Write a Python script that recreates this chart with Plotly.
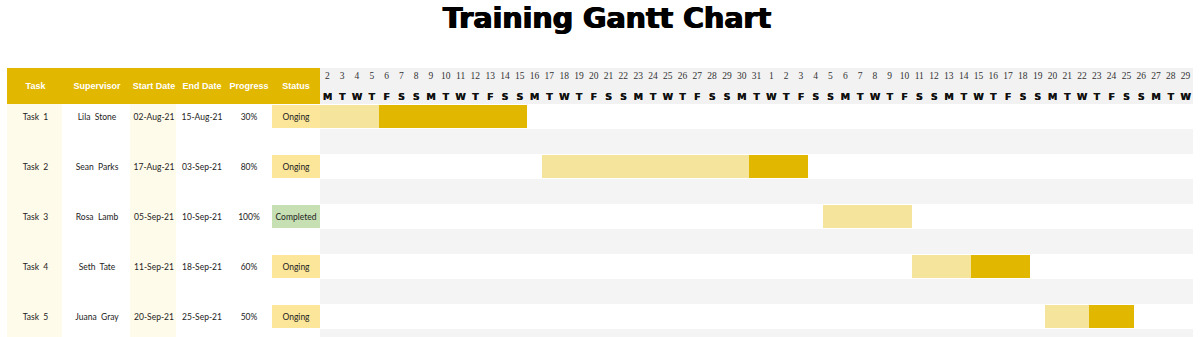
import plotly.graph_objects as go
import pandas as pd

# ---------------- data ----------------
tasks = ["Task  1", "Task  2", "Task  3", "Task  4", "Task  5"]
supervisors = ["Lila  Stone", "Sean  Parks", "Rosa  Lamb", "Seth  Tate", "Juana  Gray"]
start_dates = ["2021-08-02", "2021-08-17", "2021-09-05", "2021-09-11", "2021-09-20"]
end_dates = ["2021-08-15", "2021-09-03", "2021-09-10", "2021-09-18", "2021-09-25"]
progress = [30, 80, 100, 60, 50]
statuses = ["Onging", "Onging", "Completed", "Onging", "Onging"]
done_days = [4, 14, 6, 4, 3]
headers = ["Task", "Supervisor", "Start Date", "End Date", "Progress", "Status"]
timeline_start = "2021-08-02"
timeline_end = "2021-09-29"
weekday_letters = ["M", "T", "W", "T", "F", "S", "S"]

# ---------------- style ----------------
GOLD = "#E2B700"
LIGHT = "#F5E49C"
HEAD_GRAY = "#F2F2F2"
STRIPE = "#F4F4F4"
CREAM = "#FFFBEB"
STATUS_COLORS = {"Onging": "#FCE69A", "Completed": "#C6E0B4"}
col_edges = [7, 64, 130, 178, 226, 272, 320]
W = 1200
H = 337

DAY_MS = 86400000
rows = [2 * i for i in range(len(tasks))]
starts = pd.to_datetime(start_dates)
ends = pd.to_datetime(end_dates)
durations = [(e - s).days + 1 for s, e in zip(starts, ends)]
col_centers = [(col_edges[i] + col_edges[i + 1]) / 2 for i in range(len(headers))]

days = pd.date_range(timeline_start, timeline_end)
day_mid = [d + pd.Timedelta(hours=12) for d in days]

y_top = -1.94
y_bottom = 8.82
head_mid = (y_top + -0.5) / 2

fig = go.Figure()

# header backgrounds
fig.add_trace(go.Bar(orientation="h", y=[head_mid], x=[col_edges[-1] - col_edges[0]],
                     base=[col_edges[0]], width=[-0.5 - y_top], marker=dict(color=GOLD, line=dict(width=0)),
                     xaxis="x", yaxis="y", hoverinfo="skip", showlegend=False))
fig.add_trace(go.Bar(orientation="h", y=[head_mid], x=[len(days) * DAY_MS],
                     base=[timeline_start], width=[-0.5 - y_top],
                     marker=dict(color=HEAD_GRAY, line=dict(width=0)),
                     xaxis="x2", yaxis="y", hoverinfo="skip", showlegend=False))

# stripes in the timeline (gap rows)
stripe_rows = [r + 1 for r in rows]
fig.add_trace(go.Bar(orientation="h", y=stripe_rows, x=[len(days) * DAY_MS] * len(stripe_rows),
                     base=[timeline_start] * len(stripe_rows), width=1.0,
                     marker=dict(color=STRIPE, line=dict(width=0)),
                     xaxis="x2", yaxis="y", hoverinfo="skip", showlegend=False))

# status cells
fig.add_trace(go.Bar(orientation="h", y=rows, x=[col_edges[6] - col_edges[5]] * len(rows),
                     base=[col_edges[5]] * len(rows), width=0.94,
                     marker=dict(color=[STATUS_COLORS[s] for s in statuses], line=dict(width=0)),
                     xaxis="x", yaxis="y", hoverinfo="skip", showlegend=False))

# gantt bars: completed part (light) and remaining part (dark)
fig.add_trace(go.Bar(orientation="h", y=rows, x=[d * DAY_MS for d in done_days],
                     base=[s.strftime("%Y-%m-%d") for s in starts], width=0.94,
                     marker=dict(color=LIGHT, line=dict(width=0)),
                     xaxis="x2", yaxis="y", hoverinfo="skip", showlegend=False))
fig.add_trace(go.Bar(orientation="h", y=rows, x=[(dur - d) * DAY_MS for dur, d in zip(durations, done_days)],
                     base=[(s + pd.Timedelta(days=d)).strftime("%Y-%m-%d") for s, d in zip(starts, done_days)],
                     width=0.94, marker=dict(color=GOLD, line=dict(width=0)),
                     xaxis="x2", yaxis="y", hoverinfo="skip", showlegend=False))

# header text
fig.add_trace(go.Scatter(x=col_centers, y=[head_mid + 0.04] * len(headers), mode="text", text=headers,
                         textfont=dict(family="Liberation Sans", size=9, color="white", weight="bold"),
                         xaxis="x", yaxis="y", hoverinfo="skip", showlegend=False))

# day numbers and weekday letters
fig.add_trace(go.Scatter(x=day_mid, y=[-1.6] * len(days), mode="text", text=[str(d.day) for d in days],
                         textfont=dict(family="Liberation Serif", size=9.5, color="#333333"),
                         xaxis="x2", yaxis="y", hoverinfo="skip", showlegend=False))
fig.add_trace(go.Scatter(x=day_mid, y=[-0.76] * len(days), mode="text",
                         text=[weekday_letters[d.weekday()] for d in days],
                         textfont=dict(family="DejaVu Sans", size=9.5, color="#111111", weight="bold",
                                       shadow="0.3px 0 0 #111111"),
                         xaxis="x2", yaxis="y", hoverinfo="skip", showlegend=False))

# table body text
body_cols = [
    tasks,
    supervisors,
    [s.strftime("%d-%b-%y") for s in starts],
    [e.strftime("%d-%b-%y") for e in ends],
    [f"{p}%" for p in progress],
    statuses,
]
for ci, col in enumerate(body_cols):
    fig.add_trace(go.Scatter(x=[col_centers[ci]] * len(col), y=[r + 0.04 for r in rows], mode="text", text=col,
                             textfont=dict(family="Lato", size=8.5, color="#222222"),
                             xaxis="x", yaxis="y", hoverinfo="skip", showlegend=False))

# cream column backgrounds (Task and Start Date columns)
shapes = []
for ci in (0, 2):
    shapes.append(dict(type="rect", xref="x", yref="y", x0=col_edges[ci], x1=col_edges[ci + 1] - 2,
                       y0=-0.5, y1=y_bottom, fillcolor=CREAM, line=dict(width=0), layer="below"))

fig.update_layout(
    width=W, height=H,
    margin=dict(l=0, r=0, t=68, b=0),
    paper_bgcolor="white", plot_bgcolor="white",
    barmode="overlay",
    bargap=0,
    shapes=shapes,
    xaxis=dict(domain=[col_edges[0] / W, col_edges[-1] / W], range=[col_edges[0], col_edges[-1]],
               visible=False, fixedrange=True),
    xaxis2=dict(domain=[col_edges[-1] / W, 1193 / W], type="date",
                range=[timeline_start, (days[-1] + pd.Timedelta(days=1)).strftime("%Y-%m-%d")],
                visible=False, fixedrange=True, anchor="y"),
    yaxis=dict(range=[y_bottom, y_top], visible=False, fixedrange=True),
    annotations=[dict(text="<b>Training Gantt Chart</b>", xref="paper", yref="paper",
                      x=607 / W, y=1, yshift=50, xanchor="center", yanchor="middle", showarrow=False,
                      font=dict(family="DejaVu Sans", size=28.5, color="black",
                                shadow="0.7px 0 0 black, -0.7px 0 0 black"))],
)

fig.write_html("out.html", config=dict(displayModeBar=False))
